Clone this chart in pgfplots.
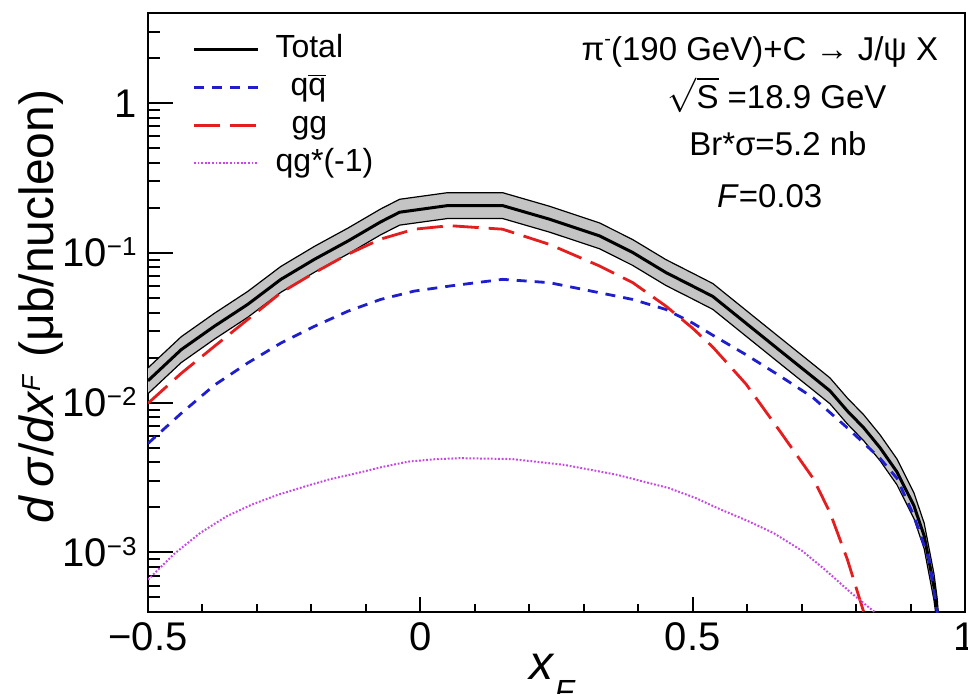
\documentclass[border=0pt]{standalone}
\usepackage{pgfplots}
\pgfplotsset{compat=1.18}
\usepgfplotslibrary{fillbetween}
\usetikzlibrary{calc}
\usepackage{fontspec}
\setmainfont{Liberation Sans}
\definecolor{bandgray}{RGB}{196,196,196}
\definecolor{qqblue}{RGB}{30,30,205}
\definecolor{ggred}{RGB}{228,30,30}
\definecolor{qgmag}{RGB}{200,70,230}
\newcommand{\tenpow}[1]{10\raisebox{5.5pt}{\fontsize{13}{13}\selectfont #1}}
\begin{document}
\begin{tikzpicture}
\begin{axis}[
  scale only axis,
  width=408.5pt, height=299.5pt,
  ymode=log,
  xmin=-0.5, xmax=1,
  ymin=4e-4, ymax=4,
  axis line style={line width=1.2pt},
  tick style={line width=1pt, black},
  tick align=inside,
  xtick pos=bottom, ytick pos=left,
  xtick={-0.5,0,0.5,1},
  xticklabels={−0.5,0,0.5,1},
  minor x tick num=4,
  ytick={1e-3,1e-2,1e-1,1},
  yticklabels={\tenpow{−3},\tenpow{−2},\tenpow{−1},1},
  minor ytick={5e-4,6e-4,7e-4,8e-4,9e-4,2e-3,3e-3,4e-3,5e-3,6e-3,7e-3,8e-3,9e-3,0.02,0.03,0.04,0.05,0.06,0.07,0.08,0.09,0.2,0.3,0.4,0.5,0.6,0.7,0.8,0.9,2,3,4},
  xtick style={/pgfplots/major tick length=7.5pt, /pgfplots/minor tick length=4pt},
  ytick style={/pgfplots/major tick length=12.5pt, /pgfplots/minor tick length=6pt},
  ticklabel style={font=\fontsize{20}{22}\selectfont},
  xticklabel style={anchor=base, inner sep=0pt, yshift=-19pt},
  yticklabel style={anchor=base east, inner sep=0pt, xshift=-5.5pt, yshift=-7pt},
  xlabel={\textit{x}\raisebox{-11.5pt}{\fontsize{16}{16}\selectfont\textit{F}}},
  xlabel style={at={(axis description cs:0.495,-0.1135)}, anchor=base, inner sep=0pt, font=\fontsize{24}{28}\selectfont},
  ylabel={\textit{d}\,\textit{σ}/\textit{dx}\raisebox{6.5pt}{\fontsize{13}{13}\selectfont\textit{F}}\hspace{0.35em}(μb/nucleon)},
  ylabel style={at={(axis description cs:-0.131,0.51)}, anchor=center, inner sep=0pt, font=\fontsize{24}{28}\selectfont},
  legend style={at={(axis description cs:0.054,0.972)}, anchor=north west, draw=none, fill=none, inner sep=0pt,
    font=\fontsize{16}{19}\selectfont, nodes={inner sep=1pt, text height=12.5pt, text depth=4.5pt},
    column sep=7pt, row sep=0pt},
  legend cell align=left,
  legend image code/.code={\draw[#1] (0pt,0pt) -- (32pt,0pt);},
]
% total band upper / lower
\addplot[name path=up, black, line width=0.6pt, forget plot] coordinates {
(-0.5,0.01708) (-0.439,0.02757) (-0.378,0.03953) (-0.317,0.05527) (-0.256,0.08125)
(-0.194,0.1108) (-0.133,0.1464) (-0.073,0.1964) (-0.038,0.2281) (0.05,0.2525)
(0.151,0.2525) (0.237,0.2050) (0.329,0.1586) (0.390,0.1227) (0.451,0.09016)
(0.5,0.0732) (0.537,0.06246) (0.598,0.04136) (0.660,0.02721) (0.721,0.01806)
(0.752,0.01464) (0.784,0.01074) (0.814,0.0083) (0.844,0.0061) (0.875,0.00421)
(0.906,0.00251) (0.925,0.00157) (0.943,0.00072) (0.949,0.00049) (0.953,0.0003)};
\addplot[name path=lo, black, line width=0.6pt, forget plot] coordinates {
(-0.5,0.01148) (-0.439,0.01852) (-0.378,0.02656) (-0.317,0.03713) (-0.256,0.05459)
(-0.194,0.07443) (-0.133,0.09836) (-0.073,0.1320) (-0.038,0.1533) (0.05,0.1697)
(0.151,0.1697) (0.237,0.1377) (0.329,0.1066) (0.390,0.08246) (0.451,0.06058)
(0.5,0.0492) (0.537,0.04197) (0.598,0.02779) (0.660,0.01828) (0.721,0.01213)
(0.752,0.00984) (0.784,0.00721) (0.814,0.00557) (0.844,0.0041) (0.875,0.00283)
(0.906,0.00169) (0.925,0.00106) (0.943,0.00048) (0.949,0.00033) (0.953,0.0002)};
\addplot[bandgray, forget plot] fill between[of=up and lo];
% total central
\addplot[black, line width=1.5pt] coordinates {
(-0.5,0.0140) (-0.439,0.0226) (-0.378,0.0324) (-0.317,0.0453) (-0.256,0.0666)
(-0.194,0.0908) (-0.133,0.120) (-0.073,0.161) (-0.038,0.187) (0.05,0.207)
(0.151,0.207) (0.237,0.168) (0.329,0.130) (0.390,0.1006) (0.451,0.0739)
(0.5,0.060) (0.537,0.0512) (0.598,0.0339) (0.660,0.0223) (0.721,0.0148)
(0.752,0.0120) (0.784,0.0088) (0.814,0.0068) (0.844,0.0050) (0.875,0.00345)
(0.906,0.00206) (0.925,0.00129) (0.943,0.00059) (0.949,0.0004) (0.953,0.00025)};
\addlegendentry{Total}
% q qbar
\addplot[qqblue, line width=1.4pt, dash pattern=on 5pt off 4pt] coordinates {
(-0.5,0.00534) (-0.439,0.00849) (-0.378,0.0131) (-0.317,0.0184) (-0.256,0.0250)
(-0.194,0.0324) (-0.133,0.0408) (-0.073,0.0489) (-0.011,0.0556) (0.054,0.0601)
(0.151,0.0666) (0.237,0.0633) (0.329,0.0542) (0.390,0.0489) (0.451,0.0419)
(0.5,0.0340) (0.537,0.0282) (0.598,0.0209) (0.660,0.0151) (0.721,0.0108)
(0.784,0.00679) (0.844,0.00425) (0.875,0.00313) (0.906,0.00176) (0.934,0.000898)
(0.949,0.0004) (0.952,0.0003)};
\addlegendentry{\hspace*{7.5pt}q$\overline{\mbox{q}}$}
% g g
\addplot[ggred, line width=1.4pt, dash pattern=on 13pt off 5pt] coordinates {
(-0.5,0.0099) (-0.439,0.0157) (-0.378,0.0238) (-0.317,0.0359) (-0.256,0.0542)
(-0.194,0.0739) (-0.133,0.098) (-0.073,0.1236) (-0.011,0.144) (0.054,0.152)
(0.151,0.144) (0.237,0.114) (0.329,0.0818) (0.390,0.0633) (0.451,0.0441)
(0.5,0.0314) (0.537,0.0235) (0.598,0.0133) (0.660,0.00646) (0.721,0.00313)
(0.752,0.00185) (0.784,0.000898) (0.814,0.0004) (0.82,0.0003)};
\addlegendentry{\hspace*{8pt}gg}
% q g * (-1)
\addplot[qgmag, line width=1pt, dash pattern=on 0.9pt off 0.9pt] coordinates {
(-0.5,0.000658) (-0.452,0.000977) (-0.404,0.00135) (-0.356,0.00174) (-0.309,0.00209)
(-0.261,0.00243) (-0.213,0.00275) (-0.165,0.00309) (-0.117,0.00338) (-0.07,0.00372)
(-0.022,0.00404) (0.026,0.00419) (0.074,0.00426) (0.169,0.00420) (0.265,0.00384)
(0.361,0.00330) (0.456,0.00269) (0.504,0.00232) (0.552,0.00193) (0.6,0.00163)
(0.648,0.00135) (0.7,0.00103) (0.743,0.000767) (0.791,0.000536) (0.834,0.0004)
(0.84,0.00035)};
\addlegendentry{qg*(-1)}
% annotations
\node[anchor=base, inner sep=0pt, font=\fontsize{16.5}{20}\selectfont] at (axis description cs:0.749,0.9215)
  {π\raisebox{0.45em}{\fontsize{10}{10}\selectfont -}(190 GeV)+C → J/ψ X};
\node[anchor=base, inner sep=0pt, font=\fontsize{16.5}{20}\selectfont] at (axis description cs:0.770,0.8414)
  {$\sqrt{\mbox{S}}$ =18.9 GeV};
\node[anchor=base, inner sep=0pt, font=\fontsize{16.5}{20}\selectfont] at (axis description cs:0.771,0.7613)
  {Br*σ=5.2 nb};
\node[anchor=base, inner sep=0pt, font=\fontsize{16.5}{20}\selectfont] at (axis description cs:0.761,0.6745)
  {\textit{F}=0.03};
\end{axis}
\pgfresetboundingbox
\path[use as bounding box] ($(current axis.south west)+(-74pt,-40.5pt)$) rectangle ($(current axis.north east)+(1.5pt,6.5pt)$);
\end{tikzpicture}
\end{document}
